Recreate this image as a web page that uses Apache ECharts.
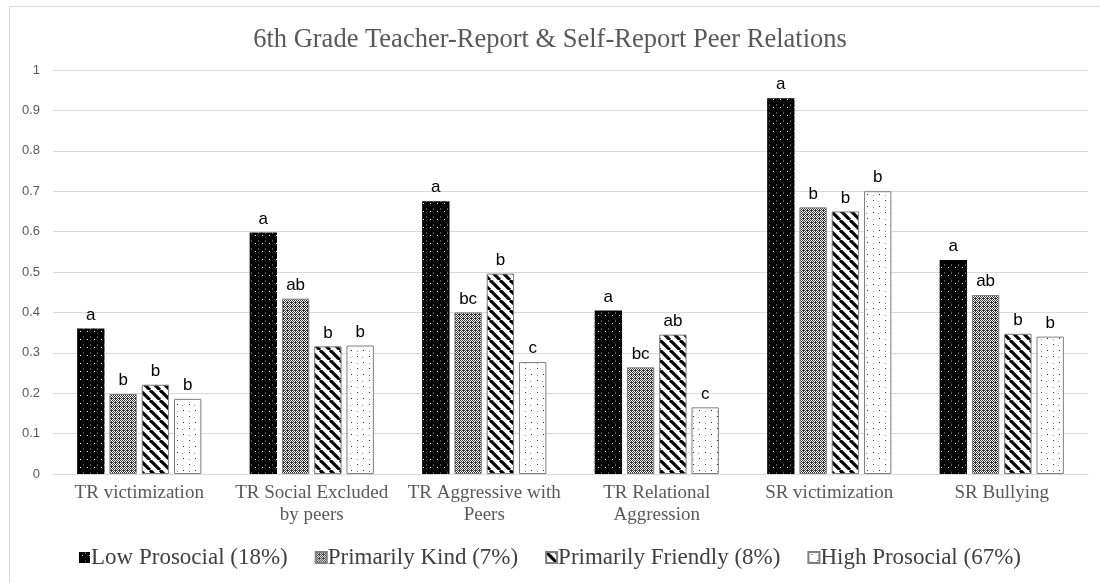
<!DOCTYPE html>
<html>
<head>
<meta charset="utf-8">
<script src="https://cdn.jsdelivr.net/npm/echarts@6/dist/echarts.min.js"></script>
<style>
  html, body { margin: 0; padding: 0; background: #fff; }
  #chart { width: 1100px; height: 583px; }
</style>
</head>
<body>
<div id="chart"></div>
<script>
const categories = ['TR victimization', 'TR Social Excluded\nby peers', 'TR Aggressive with\nPeers', 'TR Relational\nAggression', 'SR victimization', 'SR Bullying'];
const seriesNames = ['Low Prosocial (18%)', 'Primarily Kind (7%)', 'Primarily Friendly (8%)', 'High Prosocial (67%)'];

const lowProsocial = [0.36, 0.598, 0.675, 0.405, 0.93, 0.53];
const primarilyKind = [0.198, 0.434, 0.40, 0.264, 0.66, 0.443];
const primarilyFriendly = [0.221, 0.316, 0.496, 0.345, 0.65, 0.347];
const highProsocial = [0.186, 0.318, 0.277, 0.165, 0.70, 0.34];

const lowLetters = ['a', 'a', 'a', 'a', 'a', 'a'];
const kindLetters = ['b', 'ab', 'bc', 'bc', 'b', 'ab'];
const friendlyLetters = ['b', 'b', 'b', 'ab', 'b', 'b'];
const highLetters = ['b', 'b', 'c', 'c', 'b', 'b'];

const yTicks = [0, 0.1, 0.2, 0.3, 0.4, 0.5, 0.6, 0.7, 0.8, 0.9, 1];

// --- fill patterns, drawn on small canvases
function tile(w, h, draw) {
  let c = document.createElement('canvas');
  c.width = w; c.height = h;
  let ctx = c.getContext('2d');
  draw(ctx);
  return { image: c, repeat: 'repeat' };
}
const lowFill = tile(7, 8, ctx => {
  ctx.fillStyle = '#000'; ctx.fillRect(0, 0, 7, 8);
  ctx.fillStyle = '#fff'; ctx.fillRect(3, 3, 1, 1);
  ctx.fillStyle = '#555'; ctx.fillRect(6, 0, 1, 2);
});
const kindFill = tile(4, 4, ctx => {
  ctx.fillStyle = '#fff'; ctx.fillRect(0, 0, 4, 4);
  ctx.fillStyle = '#333';
  ctx.fillRect(0, 0, 1, 1); ctx.fillRect(2, 0, 1, 1);
  ctx.fillRect(1, 1, 1, 1); ctx.fillRect(3, 1, 1, 1);
  ctx.fillRect(0, 2, 1, 1); ctx.fillRect(2, 2, 2, 1);
  ctx.fillRect(1, 3, 1, 1); ctx.fillRect(3, 3, 1, 1);
});
const friendlyFill = tile(10, 10, ctx => {
  ctx.fillStyle = '#fff'; ctx.fillRect(0, 0, 10, 10);
  ctx.strokeStyle = '#000'; ctx.lineWidth = 3.2;
  for (let k = -10; k <= 20; k += 10) {
    ctx.beginPath(); ctx.moveTo(k, 0); ctx.lineTo(k + 10, 10); ctx.stroke();
  }
});
const highFill = tile(12, 12, ctx => {
  ctx.fillStyle = '#fff'; ctx.fillRect(0, 0, 12, 12);
  ctx.fillStyle = '#222';
  ctx.fillRect(3, 2, 1, 1); ctx.fillRect(9, 8, 1, 1);
  ctx.fillStyle = '#999';
  ctx.fillRect(9, 3, 1, 1); ctx.fillRect(2, 9, 1, 1);
});

const fills = [lowFill, kindFill, friendlyFill, highFill];
const borders = ['#000', '#7f7f7f', '#7f7f7f', '#7f7f7f'];
const values = [lowProsocial, primarilyKind, primarilyFriendly, highProsocial];
const letters = [lowLetters, kindLetters, friendlyLetters, highLetters];

const serif = '"Liberation Serif", "DejaVu Serif", serif';
const sans = '"Liberation Sans", "DejaVu Sans", sans-serif';

let series = seriesNames.map((name, i) => ({
  name: name,
  type: 'bar',
  barGap: '18%',
  barCategoryGap: '28%',
  data: values[i].map((v, j) => ({ value: v, label: { formatter: letters[i][j] } })),
  itemStyle: { color: fills[i], borderColor: borders[i], borderWidth: i === 0 ? 0 : 1 },
  label: {
    show: true,
    position: 'top',
    distance: 5,
    color: '#000',
    fontFamily: sans,
    fontSize: 17
  },
  emphasis: { disabled: true }
}));

let myChart = echarts.init(document.getElementById('chart'));
let option = {
  animation: false,
  title: {
    text: '6th Grade Teacher-Report & Self-Report Peer Relations',
    left: 'center',
    top: 22,
    textStyle: { fontFamily: serif, fontSize: 26.5, fontWeight: 'normal', color: '#595959' }
  },
  graphic: [{
    type: 'rect',
    shape: { x: 9.5, y: 6.5, width: 1200, height: 700 },
    style: { fill: 'none', stroke: '#d9d9d9', lineWidth: 1 },
    silent: true
  }],
  legend: {
    data: seriesNames,
    bottom: 9,
    left: 'center',
    itemWidth: 11,
    itemHeight: 11,
    itemGap: 27,
    icon: 'rect',
    textStyle: { fontFamily: serif, fontSize: 23, color: '#404040', padding: [0, 0, 0, -4] }
  },
  grid: { left: 53, right: 12, top: 70, bottom: 109, containLabel: false },
  xAxis: {
    type: 'category',
    data: categories,
    axisLine: { lineStyle: { color: '#d9d9d9', width: 1 } },
    axisTick: { show: false },
    axisLabel: {
      fontFamily: serif, fontSize: 19, color: '#595959',
      lineHeight: 22, margin: 8, interval: 0
    }
  },
  yAxis: {
    type: 'value',
    min: 0,
    max: 1,
    interval: 0.1,
    axisLine: { show: false },
    axisTick: { show: false },
    splitLine: { lineStyle: { color: '#d9d9d9', width: 1 } },
    axisLabel: {
      fontFamily: sans, fontSize: 13, color: '#595959', margin: 13,
      formatter: v => String(yTicks[Math.round(v * 10)])
    }
  },
  series: series
};
myChart.setOption(option);
</script>
</body>
</html>
